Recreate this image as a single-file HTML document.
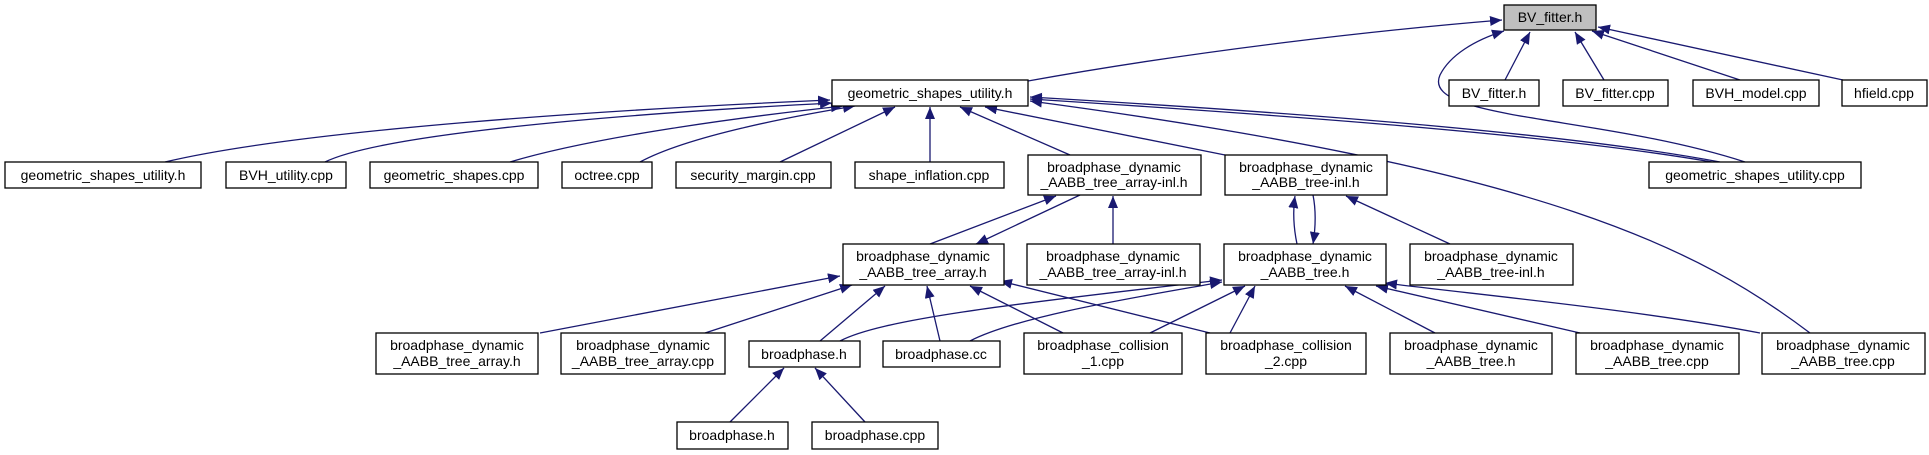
<!DOCTYPE html>
<html><head><meta charset="utf-8"><style>
html,body{margin:0;padding:0;background:#fff;}
svg{display:block;}
text{font-family:"Liberation Sans",sans-serif;font-size:14px;fill:#000;}
</style></head><body>
<svg width="1929" height="455" viewBox="0 0 1929 455" xmlns="http://www.w3.org/2000/svg">
<defs>
<marker id="a" markerUnits="userSpaceOnUse" markerWidth="14" markerHeight="12" refX="12" refY="5" orient="auto">
<path d="M0,0 L12,5 L0,10 Z" fill="#191970"/>
</marker>
</defs>
<g fill="none" stroke="#191970" stroke-width="1.3" marker-end="url(#a)">
<!-- to BV_fitter.h -->
<path d="M1028,81 C1200,50 1380,30 1502,20"/>
<path d="M1505,80 L1530,32"/>
<path d="M1604,80 L1575,32"/>
<path d="M1740,80 L1592,31"/>
<path d="M1843,80 L1598,27"/>
<path d="M1745,162 C1600,115 1420,120 1440,75 C1450,55 1475,40 1504,31"/>
<!-- to geometric_shapes_utility.h -->
<path d="M165,162 C300,130 600,110 830,100"/>
<path d="M325,162 C380,135 600,115 832,103"/>
<path d="M510,162 C600,135 760,115 843,106"/>
<path d="M640,162 C690,135 800,115 855,106"/>
<path d="M780,162 L895,107"/>
<path d="M930,162 L930,107"/>
<path d="M1070,155 L960,107"/>
<path d="M1225,155 L985,107"/>
<path d="M1720,162 C1550,130 1250,110 1030,97"/>
<path d="M1712,162 C1545,133 1250,113 1030,99"/>
<path d="M1810,333 C1700,250 1550,170 1030,101"/>
<!-- array-inl -->
<path d="M930,244 L1056,196"/>
<path d="M1080,195 L976,244"/>
<path d="M1113,244 L1113,196"/>
<!-- tree-inl -->
<path d="M1297,244 C1293,225 1293,210 1295,196"/>
<path d="M1313,195 C1316,210 1316,225 1313,244"/>
<path d="M1450,244 L1346,196"/>
<!-- AABB_tree_array.h -->
<path d="M540,333 L840,276"/>
<path d="M705,333 L852,285"/>
<path d="M820,341 L885,286"/>
<path d="M940,341 L927,286"/>
<path d="M1063,333 L970,286"/>
<path d="M1210,333 L1000,281"/>
<!-- AABB_tree.h -->
<path d="M840,341 C880,320 1000,305 1222,280"/>
<path d="M970,341 C1020,315 1150,295 1222,282"/>
<path d="M1150,333 L1245,286"/>
<path d="M1230,333 L1255,286"/>
<path d="M1435,333 L1345,286"/>
<path d="M1580,333 L1376,286"/>
<path d="M1760,333 C1640,310 1480,295 1385,283"/>
<!-- broadphase.h -->
<path d="M730,422 L784,368"/>
<path d="M865,422 L815,368"/>
</g>
<g stroke="#000" stroke-width="1.3" fill="#fff">
<rect x="1504" y="5" width="92" height="25" fill="#bfbfbf"/>
<rect x="832" y="80" width="196" height="26"/>
<rect x="1449" y="80" width="90" height="26"/>
<rect x="1563" y="80" width="105" height="26"/>
<rect x="1693" y="80" width="126" height="26"/>
<rect x="1842" y="80" width="85" height="26"/>
<rect x="5" y="162" width="196" height="26"/>
<rect x="226" y="162" width="120" height="26"/>
<rect x="370" y="162" width="168" height="26"/>
<rect x="562" y="162" width="90" height="26"/>
<rect x="676" y="162" width="155" height="26"/>
<rect x="855" y="162" width="149" height="26"/>
<rect x="1028" y="155" width="173" height="40"/>
<rect x="1225" y="155" width="162" height="40"/>
<rect x="1649" y="162" width="212" height="26"/>
<rect x="843" y="244" width="161" height="41"/>
<rect x="1027" y="244" width="173" height="41"/>
<rect x="1224" y="244" width="162" height="41"/>
<rect x="1410" y="244" width="163" height="41"/>
<rect x="376" y="333" width="162" height="41"/>
<rect x="561" y="333" width="164" height="41"/>
<rect x="749" y="341" width="111" height="26"/>
<rect x="883" y="341" width="117" height="26"/>
<rect x="1024" y="333" width="158" height="41"/>
<rect x="1206" y="333" width="160" height="41"/>
<rect x="1390" y="333" width="162" height="41"/>
<rect x="1576" y="333" width="163" height="41"/>
<rect x="1762" y="333" width="163" height="41"/>
<rect x="677" y="422" width="111" height="27"/>
<rect x="812" y="422" width="126" height="27"/>
</g>
<g text-anchor="middle">
<text x="1550" y="22">BV_fitter.h</text>
<text x="930" y="98">geometric_shapes_utility.h</text>
<text x="1494" y="98">BV_fitter.h</text>
<text x="1615" y="98">BV_fitter.cpp</text>
<text x="1756" y="98">BVH_model.cpp</text>
<text x="1884" y="98">hfield.cpp</text>
<text x="103" y="180">geometric_shapes_utility.h</text>
<text x="286" y="180">BVH_utility.cpp</text>
<text x="454" y="180">geometric_shapes.cpp</text>
<text x="607" y="180">octree.cpp</text>
<text x="753" y="180">security_margin.cpp</text>
<text x="929" y="180">shape_inflation.cpp</text>
<text x="1114" y="172">broadphase_dynamic</text><text x="1114" y="187">_AABB_tree_array-inl.h</text>
<text x="1306" y="172">broadphase_dynamic</text><text x="1306" y="187">_AABB_tree-inl.h</text>
<text x="1755" y="180">geometric_shapes_utility.cpp</text>
<text x="923" y="261">broadphase_dynamic</text><text x="923" y="277">_AABB_tree_array.h</text>
<text x="1113" y="261">broadphase_dynamic</text><text x="1113" y="277">_AABB_tree_array-inl.h</text>
<text x="1305" y="261">broadphase_dynamic</text><text x="1305" y="277">_AABB_tree.h</text>
<text x="1491" y="261">broadphase_dynamic</text><text x="1491" y="277">_AABB_tree-inl.h</text>
<text x="457" y="350">broadphase_dynamic</text><text x="457" y="366">_AABB_tree_array.h</text>
<text x="643" y="350">broadphase_dynamic</text><text x="643" y="366">_AABB_tree_array.cpp</text>
<text x="804" y="359">broadphase.h</text>
<text x="941" y="359">broadphase.cc</text>
<text x="1103" y="350">broadphase_collision</text><text x="1103" y="366">_1.cpp</text>
<text x="1286" y="350">broadphase_collision</text><text x="1286" y="366">_2.cpp</text>
<text x="1471" y="350">broadphase_dynamic</text><text x="1471" y="366">_AABB_tree.h</text>
<text x="1657" y="350">broadphase_dynamic</text><text x="1657" y="366">_AABB_tree.cpp</text>
<text x="1843" y="350">broadphase_dynamic</text><text x="1843" y="366">_AABB_tree.cpp</text>
<text x="732" y="440">broadphase.h</text>
<text x="875" y="440">broadphase.cpp</text>
</g>
</svg>
</body></html>
